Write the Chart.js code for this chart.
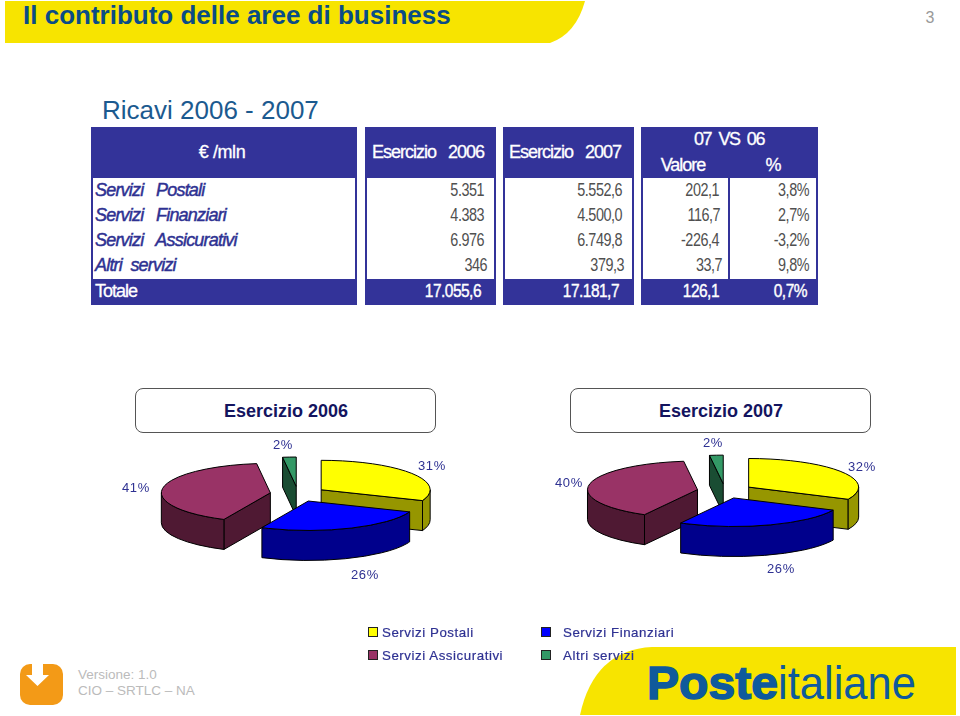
<!DOCTYPE html>
<html><head><meta charset="utf-8">
<script src="https://cdn.jsdelivr.net/npm/chart.js@4"></script>
<style>
html,body{margin:0;padding:0;background:#fff;width:960px;height:716px;overflow:hidden}
#page{position:relative;width:960px;height:716px;font-family:"Liberation Sans",Arial,sans-serif}
.t{position:absolute;white-space:pre;line-height:1;transform:translateY(-50%)}
.c{transform:translate(-50%,-50%)}
.r{transform:translate(-100%,-50%)}
.block{position:absolute;background:#333399}
.white{position:absolute;background:#fff}
.cell{font-size:18px;letter-spacing:-1px}
.head{-webkit-text-stroke:0.3px #fff}
.num{font-size:18px;letter-spacing:-0.6px;transform-origin:100% 50%;transform:translate(-100%,-50%) scaleX(.8)}
.tot{font-size:18px;letter-spacing:-0.6px;transform-origin:100% 50%;transform:translate(-100%,-50%) scaleX(.86);-webkit-text-stroke:0.4px #fff}
canvas{position:absolute}
.box{position:absolute;box-sizing:border-box;border:1.5px solid #555;border-radius:8px;background:#fff}
.sw{position:absolute;box-sizing:border-box;width:10px;height:10px;border:1px solid #222}
</style></head><body><div id="page">
<svg width="960" height="716" style="position:absolute;left:0;top:0">
<path d="M5 1H585Q576 34 550 43H5Z" fill="#F7E400"/>
<path d="M580 715Q594 650 652 647H956V715Z" fill="#F7E400"/>
<rect x="20" y="664" width="43" height="41" rx="10" fill="#F39A17"/>
<path d="M32 664h11v11h6l-11.500 11-11.500-11h6z" fill="#fff"/>
<text x="647" y="699" font-family="Liberation Sans" font-size="47" font-weight="bold" fill="#0F5A9C" stroke="#0F5A9C" stroke-width="1.500" textLength="131" lengthAdjust="spacingAndGlyphs">Poste</text>
<text x="778" y="699" font-family="Liberation Sans" font-size="47" fill="#0F5A9C" textLength="138" lengthAdjust="spacingAndGlyphs">italiane</text>
</svg>
</div>
<script>
const categories=["Servizi Postali","Servizi Finanziari","Servizi Assicurativi","Altri servizi"];
const rowLabels=["Servizi   Postali","Servizi   Finanziari","Servizi   Assicurativi","Altri  servizi"];
const ricavi2006=["5.351","4.383","6.976","346"];
const ricavi2007=["5.552,6","4.500,0","6.749,8","379,3"];
const deltaValore=["202,1","116,7","-226,4","33,7"];
const deltaPercent=["3,8%","2,7%","-3,2%","9,8%"];
const totale=["17.055,6","17.181,7","126,1","0,7%"];
const quota2006=[31,26,41,2];
const quota2007=[32,26,40,2];
const faceColors=["#FFFF00","#0000FF","#993366","#339966"];
const sideColors=["#969600","#00008C","#4F1933","#1A4D33"];

const page=document.getElementById('page');
function div(cls,css,txt){const d=document.createElement('div');d.className=cls;Object.assign(d.style,css);if(txt!==undefined)d.textContent=txt;page.appendChild(d);return d}
function text(txt,x,y,css,align){return div('t'+(align?' '+align:''),Object.assign({left:x+'px',top:y+'px'},css||{}),txt)}
function rect(cls,x,y,w,h){return div(cls,{left:x+'px',top:y+'px',width:w+'px',height:h+'px'})}

text("Il contributo delle aree di business",23,15,{fontSize:'26px',fontWeight:'bold',color:'#0A4C86'});
text("3",930,18,{fontSize:'16px',color:'#999'},'c');
text("Ricavi 2006 - 2007",102,110,{fontSize:'26px',color:'#1C5A8F'});

// table
[[91,266],[365,131],[503,131],[641,177]].forEach(([x,w])=>{rect('block',x,127,w,178)});
rect('white',93,178,262,101);rect('white',367,178,127,101);rect('white',505,178,127,101);
rect('white',643,178,85,101);rect('white',730,178,86,101);
const WH={color:'#fff'};
function head(s,x,y,extra){text(s,x,y,Object.assign({},WH,extra||{}),'c').classList.add('cell','head')}
head("€ /mln",222,152,{letterSpacing:'-0.4px'});
head("Esercizio   2006",428,152);
head("Esercizio   2007",565,152);
head("07  VS  06",729,139,{letterSpacing:'-1.4px'});
head("Valore",683,165);
head("%",773,165);
const rowY=[190,215,240,265];
const GR={color:'#505050'};
const right2006=[484,484,484,487],right2007=[622,622,622,624],rightVal=[719,720,719,722];
rowLabels.forEach((s,i)=>{
  text(s,95,rowY[i],{color:'#2E3192',fontStyle:'italic',fontSize:'18px',letterSpacing:'-0.8px',WebkitTextStroke:'0.45px #2E3192'});
  text(ricavi2006[i],right2006[i],rowY[i],GR).classList.add('num');
  text(ricavi2007[i],right2007[i],rowY[i],GR).classList.add('num');
  text(deltaValore[i],rightVal[i],rowY[i],GR).classList.add('num');
  text(deltaPercent[i],809,rowY[i],GR).classList.add('num');
});
const totLabel=text("Totale",95,291,WH);totLabel.classList.add('cell','head');
[481,619,719,807].forEach((x,i)=>text(totale[i],x,291,WH).classList.add('tot'));

// title boxes
rect('box',135,388,301,45);rect('box',570,388,301,45);
const BT={fontSize:'18px',fontWeight:'bold',color:'#14145F'};
text("Esercizio 2006",286,411,BT,'c');
text("Esercizio 2007",721,411,BT,'c');

// 3D pie plugin
const pie3d={
  id:'pie3d',
  beforeDatasetDraw(chart){
    const o=chart.options.plugins.pie3d, ctx=chart.ctx;
    const arcs=chart.getDatasetMeta(0).data;
    const items=arcs.map((arc,i)=>{
      const mid=(arc.startAngle+arc.endAngle)/2;
      const ex=Math.cos(mid)*o.explode, ey=Math.sin(mid)*o.explode*o.ratio;
      return {arc,i,ex,ey,a:arc.startAngle,b:arc.endAngle};
    }).sort((p,q)=>p.ey-q.ey);
    items.forEach(({arc,i,ex,ey,a,b})=>{
      const cx=arc.x+ex, cy=arc.y+ey, rx=arc.outerRadius, ry=rx*o.ratio, d=o.depth;
      ctx.save();
      ctx.lineWidth=1;ctx.strokeStyle='#000';ctx.lineJoin='round';ctx.fillStyle=o.sides[i];
      const pt=t=>[cx+Math.cos(t)*rx,cy+Math.sin(t)*ry];
      const wall=t=>{const p=pt(t);ctx.beginPath();ctx.moveTo(cx,cy);ctx.lineTo(p[0],p[1]);ctx.lineTo(p[0],p[1]+d);ctx.lineTo(cx,cy+d);ctx.closePath();ctx.fill();ctx.stroke()};
      if(Math.sin(a-Math.PI/2)>0.001)wall(a);
      if(Math.sin(b+Math.PI/2)>0.001)wall(b);
      const lo=Math.max(a,0),hi=Math.min(b,Math.PI);
      if(hi>lo){
        ctx.beginPath();ctx.ellipse(cx,cy,rx,ry,0,lo,hi);
        ctx.ellipse(cx,cy+d,rx,ry,0,hi,lo,true);ctx.closePath();ctx.fill();ctx.stroke();
      }
      // top face drawn by the library's arc element in flattened space
      ctx.save();
      ctx.translate(cx,cy);ctx.scale(1,o.ratio);ctx.translate(-arc.x,-arc.y);
      arc.draw(ctx);
      ctx.restore();
      ctx.beginPath();ctx.moveTo(cx,cy);ctx.ellipse(cx,cy,rx,ry,0,a,b);ctx.closePath();ctx.stroke();
      ctx.restore();
    });
    return false;
  }
};
function makePie(values,cx,cy,rx,ratio){
  const S=320,c=document.createElement('canvas');
  c.width=S;c.height=S;c.style.left=(cx-S/2)+'px';c.style.top=(cy-S/2)+'px';
  page.appendChild(c);
  new Chart(c,{type:'pie',plugins:[pie3d],
    data:{labels:categories,datasets:[{data:values,backgroundColor:faceColors,borderWidth:0}]},
    options:{responsive:false,animation:false,radius:rx,layout:{padding:0},
      plugins:{legend:{display:false},tooltip:{enabled:false},
        pie3d:{ratio:ratio,explode:28,depth:30,sides:sideColors}}}});
}
makePie(quota2006,298,493.5,109,0.27);
makePie(quota2007,725.4,490.5,110,0.26);

// percent labels
const LB={fontSize:'13px',letterSpacing:'0.7px',color:'#2E3192'};
const pos2006=[[432,465],[365,574],[136,487],[283,444]];
const pos2007=[[862,466],[781,568],[569,482],[713,442]];
quota2006.forEach((v,i)=>text(v+'%',pos2006[i][0],pos2006[i][1],LB,'c'));
quota2007.forEach((v,i)=>text(v+'%',pos2007[i][0],pos2007[i][1],LB,'c'));

// legend
const legX=[368,541,368,541],legY=[627,627,650,650],legT=[382,563,382,563];
categories.forEach((name,i)=>{
  div('sw',{left:legX[i]+'px',top:legY[i]+'px',background:faceColors[i]});
  text(name,legT[i],legY[i]+6,{fontSize:'13.3px',letterSpacing:'0.55px',color:'#2E3192',WebkitTextStroke:'0.2px #2E3192'});
});

// footer
text("Versione: 1.0",78,675,{fontSize:'13.5px',color:'#bbb'});
text("CIO – SRTLC – NA",78,691,{fontSize:'13.5px',color:'#bbb'});
</script></body></html>
